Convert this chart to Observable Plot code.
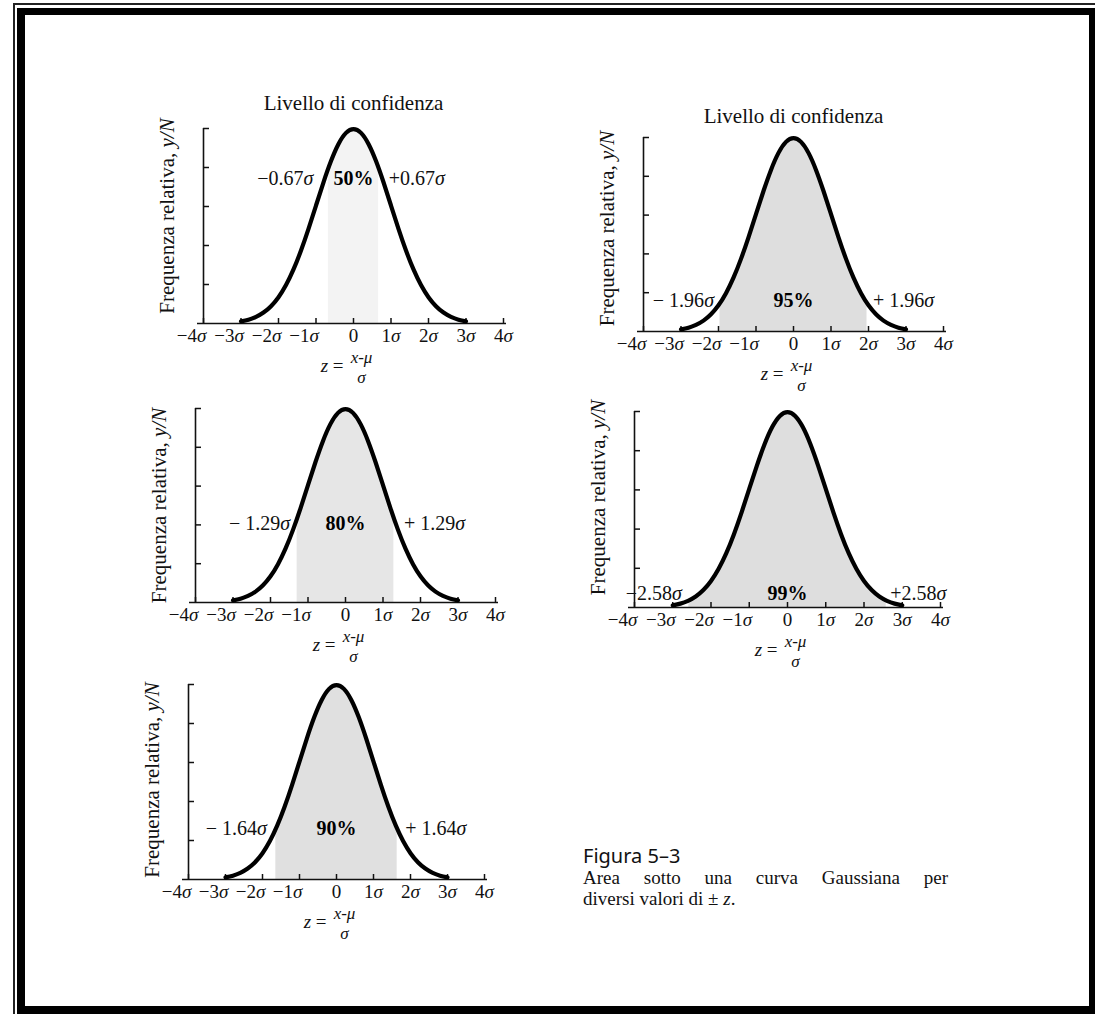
<!DOCTYPE html>
<html>
<head>
<meta charset="utf-8">
<script src="https://cdn.jsdelivr.net/npm/d3@7"></script>
<script src="https://cdn.jsdelivr.net/npm/@observablehq/plot@0.6"></script>
<style>
  html, body { margin: 0; padding: 0; background: #fff; }
  #page { position: relative; width: 1095px; height: 1014px; overflow: hidden; background: #fff;
          font-family: "Liberation Serif", "Times New Roman", serif; color: #111; }
  .outer { position: absolute; left: 13px; top: 3px; width: 1200px; height: 1200px; border: 2px solid #222; box-sizing: border-box; }
  .inner { position: absolute; left: 17px; top: 8px; width: 1080px; height: 1006px; border: 8px solid #000; border-top-width: 7px; box-sizing: border-box; background: #fff; }
  .cap1 { position: absolute; left: 583px; top: 844px; font-family: "Noto Sans", "DejaVu Sans", sans-serif; font-size: 20px; line-height: 24px; white-space: nowrap; color: #111; }
  .cap2 { position: absolute; left: 583px; top: 867px; width: 365px; font-size: 19px; line-height: 22px; text-align: justify; text-align-last: justify; white-space: nowrap; }
  .cap3 { position: absolute; left: 583px; top: 888px; font-size: 19px; line-height: 22px; white-space: nowrap; }
</style>
</head>
<body>
<div id="page">
  <div class="outer"></div>
  <div class="inner"></div>
</div>
<script>
// ---------------- data ----------------
const percents    = ["50%", "95%", "80%", "99%", "90%"];
const zValues     = [0.67, 1.96, 1.29, 2.58, 1.64];
const zHeights    = [0.319, 0.058, 0.174, 0.014, 0.104];   // curve height at ±z (y/N)
const leftLabels  = ["−0.67σ", "− 1.96σ", "− 1.29σ", "−2.58σ", "− 1.64σ"];
const rightLabels = ["+0.67σ", "+ 1.96σ", "+ 1.29σ", "+2.58σ", "+ 1.64σ"];

// relative-frequency curve
const curveZ = [-3.0, -2.8, -2.6, -2.4, -2.2, -2.0, -1.8, -1.6, -1.4, -1.2, -1.0, -0.8, -0.6, -0.4, -0.2, 0.0,
                 0.2, 0.4, 0.6, 0.8, 1.0, 1.2, 1.4, 1.6, 1.8, 2.0, 2.2, 2.4, 2.6, 2.8, 3.0];
const curveF = [0.0044, 0.0079, 0.0136, 0.0224, 0.0355, 0.0540, 0.0790, 0.1109, 0.1497, 0.1942, 0.2420, 0.2897, 0.3332, 0.3683, 0.3910, 0.3989,
                0.3910, 0.3683, 0.3332, 0.2897, 0.2420, 0.1942, 0.1497, 0.1109, 0.0790, 0.0540, 0.0355, 0.0224, 0.0136, 0.0079, 0.0044];

const xTicks      = [-4, -3, -2, -1, 0, 1, 2, 3, 4];
const xTickLabels = ["−4σ", "−3σ", "−2σ", "−1σ", "0", "1σ", "2σ", "3σ", "4σ"];
const yTicks      = [0.08, 0.16, 0.24, 0.32, 0.40];
const xDomain     = [-4, 4];
const yDomain     = [0, 0.40];

const titleText  = "Livello di confidenza";
const yLabelText = "Frequenza relativa, y/N";
const fracLeft = "z =", fracNum = "x-μ", fracDen = "σ";

// ---------------- layout (positions / styles only) ----------------
const layout = [
  {left: 203, top: 128, base: 323, w: 300, title: true, titleDy: -33, labelY: 0.297, dxL: -15, dxR: 10, ylDy: -10, fill: "#f3f3f3"},
  {left: 643, top: 137, base: 331, w: 300, title: true, titleDy: -29, labelY: 0.064, dxL: -6,  dxR: 6,  ylDy: -6,  fill: "#dedede"},
  {left: 195, top: 408, base: 602, w: 300, title: false, labelY: 0.163, dxL: -7, dxR: 10, ylDy: 0,  fill: "#e6e6e6"},
  {left: 634, top: 411, base: 607, w: 306, title: false, labelY: 0.029, dxL: -7, dxR: 4,  ylDy: -12, fill: "#dedede"},
  {left: 188, top: 684, base: 879, w: 296, title: false, labelY: 0.105, dxL: -9, dxR: 8,  ylDy: -2, fill: "#e0e0e0"}
];

const page = document.getElementById("page");
const mL = 70, mR = 30, mT = 50, mB = 80;

function italicize(svg) {
  d3.select(svg).selectAll("text").each(function () {
    if (this.querySelector("tspan")) return;
    const t = this.textContent;
    if (!/[σμ]|y\/N|^z /.test(t)) return;
    const parts = t.split(/(y\/N|x-μ|σ|^z(?= ))/).filter(s => s !== "" && s != null);
    const sel = d3.select(this);
    sel.text(null);
    parts.forEach(p => {
      const ts = sel.append("tspan").text(p);
      if (/^(y\/N|x-μ|σ|z)$/.test(p)) ts.attr("font-style", "italic");
    });
  });
}

layout.forEach((L, i) => {
  const z = zValues[i];
  const plotH = L.base - L.top;
  const curve = curveZ.map((x, k) => ({x, f: curveF[k]}));
  const areaData = [{x: -z, f: zHeights[i]}, ...curve.filter(d => Math.abs(d.x) < z), {x: z, f: zHeights[i]}];
  const fmt = d => xTickLabels[xTicks.indexOf(d)];

  const marks = [
    Plot.areaY(areaData, {x: "x", y: "f", fill: L.fill, curve: "natural"}),
    Plot.ruleY([yDomain[0]], {insetLeft: -6, insetRight: -3, strokeWidth: 1.6, stroke: "#111"}),
    Plot.ruleX([xDomain[0]], {y1: yDomain[0], y2: yDomain[1], strokeWidth: 1.6, stroke: "#111"}),
    Plot.tickX(xTicks, {x: d => d, insetTop: plotH - 5, strokeWidth: 1.5, stroke: "#111"}),
    Plot.tickY(yTicks, {y: d => d, insetRight: L.w - 6, strokeWidth: 1.5, stroke: "#111"}),
    Plot.line(curve, {x: "x", y: "f", curve: "natural", strokeWidth: 4.2, stroke: "#000", strokeLinecap: "round"}),
    Plot.axisX(xTicks.filter(d => d < 0), {tickSize: 0, tickPadding: 5, tickFormat: fmt, dx: -12, fontSize: 19, label: null}),
    Plot.axisX(xTicks.filter(d => d >= 0), {tickSize: 0, tickPadding: 5, tickFormat: fmt, fontSize: 19, label: null}),
    Plot.text([yLabelText], {frameAnchor: "left", textAnchor: "middle", rotate: -90, dx: -36, dy: L.ylDy, fontSize: 21, fill: "#111"}),
    Plot.text([leftLabels[i]], {x: -z, y: L.labelY, textAnchor: "end", dx: L.dxL, fontSize: 20, fill: "#111"}),
    Plot.text([percents[i]], {x: 0, y: L.labelY, fontWeight: "bold", fontSize: 20, fill: "#000"}),
    Plot.text([rightLabels[i]], {x: z, y: L.labelY, textAnchor: "start", dx: L.dxR, fontSize: 20, fill: "#111"}),
    Plot.text([fracLeft], {frameAnchor: "bottom", textAnchor: "end", dx: -10, dy: 48, fontSize: 19, fill: "#111"}),
    Plot.text([fracNum], {frameAnchor: "bottom", textAnchor: "middle", dx: 8, dy: 39, fontSize: 17, fill: "#111", ariaLabel: "frac-num"}),
    Plot.text([fracDen], {frameAnchor: "bottom", textAnchor: "middle", dx: 8, dy: 59, fontSize: 17, fill: "#111"})
  ];
  if (L.title) marks.push(Plot.text([titleText], {frameAnchor: "top", textAnchor: "middle", dy: L.titleDy, fontSize: 21, fill: "#111"}));

  const svg = Plot.plot({
    width: L.w + mL + mR,
    height: plotH + mT + mB,
    marginLeft: mL, marginRight: mR, marginTop: mT, marginBottom: mB,
    x: {domain: xDomain, axis: null},
    y: {domain: yDomain, axis: null},
    style: {fontFamily: "'Liberation Serif', 'Times New Roman', serif", fontSize: "18px", color: "#111", background: "transparent", overflow: "visible"},
    marks
  });
  italicize(svg);
  d3.select(svg).selectAll('g[aria-label="frac-num"] text').style("text-decoration", "underline");
  svg.style.position = "absolute";
  svg.style.left = (L.left - mL) + "px";
  svg.style.top = (L.top - mT) + "px";
  page.appendChild(svg);
});

// caption
const cap1 = document.createElement("div");
cap1.className = "cap1";
cap1.textContent = "Figura 5–3";
page.appendChild(cap1);
const cap2 = document.createElement("div");
cap2.className = "cap2";
cap2.textContent = "Area sotto una curva Gaussiana per";
page.appendChild(cap2);
const cap3 = document.createElement("div");
cap3.className = "cap3";
cap3.innerHTML = "diversi valori di ± <i>z</i>.";
page.appendChild(cap3);
</script>
</body>
</html>
